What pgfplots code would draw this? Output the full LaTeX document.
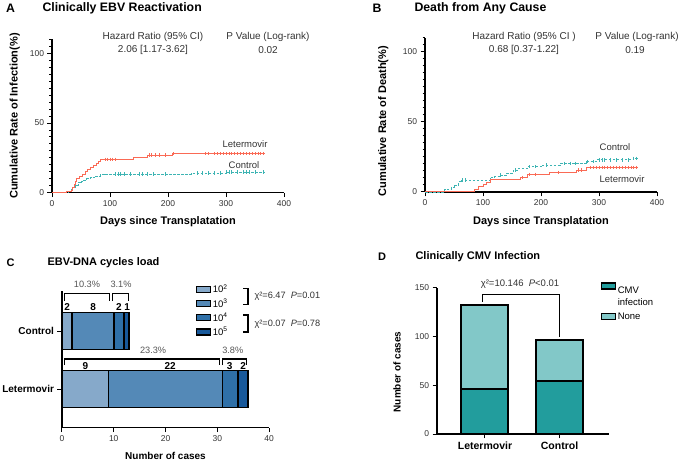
\documentclass[border=0pt]{standalone}
\usepackage{fontspec}
\setmainfont{Liberation Sans}
\usepackage{pgfplots}
\pgfplotsset{compat=1.18}

\definecolor{kmred}{HTML}{FA6A55}
\definecolor{kmteal}{HTML}{3DB4B3}
\definecolor{ca}{HTML}{86A9CA}
\definecolor{cb}{HTML}{5489B7}
\definecolor{cc}{HTML}{2F70A8}
\definecolor{cd}{HTML}{18599B}
\definecolor{dinf}{HTML}{229D9D}
\definecolor{dnone}{HTML}{82C8C8}
\definecolor{tg}{HTML}{333333}
\definecolor{pg}{HTML}{555555}

\newcommand{\fs}[2]{\fontsize{#1bp}{#2bp}\selectfont}

\pgfplotsset{
  prism/.style={
    scale only axis, anchor=south west,
    axis x line=bottom, axis y line=left,
    axis line style={-, line width=1.2bp, black},
    tick style={black, line width=1bp},
    tick align=outside,
    major tick length=4.5bp, minor tick length=2.5bp,
    tick label style={font=\fs{8.5}{10}, text=tg},
    /pgf/number format/assume math mode=true,
    clip=false,
    label style={font=\bfseries\fs{11}{13}},
  },
  boxleg/.style={legend image code/.code={\draw[##1, draw=black, line width=1.2bp] (0bp,-3bp) rectangle (14bp,3bp);}},
  boxlegup/.style={legend image code/.code={\draw[##1, draw=black, line width=1.2bp] (0bp,8bp) rectangle (14bp,14bp);}},
  kmr/.style={kmred, line width=1bp, const plot},
  kmt/.style={kmteal, line width=0.9bp, const plot, dash pattern=on 2.5bp off 1.5bp},
  cens/.style={only marks, mark=|, mark size=1.7bp, draw=#1, fill=#1, mark options={solid, line width=0.7bp, draw=#1}},
}

\begin{document}
\begin{tikzpicture}
\path[use as bounding box] (0,0) rectangle (685bp,462bp);

% ---------------- Panel A ----------------
\begin{axis}[prism, at={(52bp,269.3bp)}, width=232bp, height=153.2bp,
  xmin=0, xmax=400, ymin=0, ymax=110,
  xtick={0,100,200,300,400}, ytick={0,50,100},
  minor ytick={0,5,...,110},
  xlabel={Days since Transplatation},
  xlabel style={at={(axis description cs:0.5,-0.19)}, anchor=center},
  ylabel={Cumulative Rate of Infection(\%)},
  ylabel style={at={(axis description cs:-0.16,0.5)}, anchor=center},
]
\addplot[kmt] coordinates {(0,0) (28,0.7) (33,2) (36,4) (40,5.5) (45,7) (50,8) (55,9) (60,10) (67,11) (75,12) (83,12.8) (90,13.4) (240,14) (300,14.8) (367,14.8)};
\addplot[kmr] coordinates {(0,0) (25,0.7) (33,1.5) (36,4) (38,6) (40,8) (43,10) (47,11.5) (52,13) (57,15) (62,16.5) (67,18) (72,19.5) (76,21) (80,22.5) (84,23.5) (88,24) (140,25) (165,27) (208,28) (367,28)};
\addplot[cens=kmteal] coordinates {(110,13.4) (115,13.4) (118,13.4) (125,13.4) (135,13.4) (150,13.4) (155,13.4) (165,13.4) (175,13.4) (195,13.4) (250,14) (260,14) (270,14) (280,14) (290,14) (300,14.8) (305,14.8) (310,14.8) (320,14.8) (330,14.8) (335,14.8) (340,14.8) (350,14.8) (365,14.8)};
\addplot[cens=kmred] coordinates {(92,24) (96,24) (100,24) (104,24) (110,24) (168,27) (172,27) (178,27) (185,27) (195,27) (210,28) (265,28) (270,28) (280,28) (285,28) (290,28) (295,28) (300,28) (305,28) (310,28) (315,28) (320,28) (325,28) (330,28) (335,28) (340,28) (345,28) (350,28) (355,28) (360,28) (365,28)};
\end{axis}

% ---------------- Panel B ----------------
\begin{axis}[prism, at={(425bp,270bp)}, width=232bp, height=154bp,
  xmin=0, xmax=400, ymin=0, ymax=110,
  xtick={0,100,200,300,400}, ytick={0,50,100},
  minor ytick={0,5,...,110},
  xlabel={Days since Transplatation},
  xlabel style={at={(axis description cs:0.5,-0.19)}, anchor=center},
  ylabel={Cumulative Rate of Death(\%)},
  ylabel style={at={(axis description cs:-0.18,0.46)}, anchor=center},
]
\addplot[kmt] coordinates {(0,0) (34,1.5) (45,3) (50,5) (57,7.5) (62,8.6) (112,10.2) (120,11) (129,12) (141,13.3) (152,15.7) (160,16.5) (176,18) (203,19.3) (233,20.5) (279,21.7) (296,22.9) (359,24) (367,24)};
\addplot[kmr] coordinates {(0,0) (77,0.7) (85,2) (92,4) (100,5.5) (106,6.5) (113,8.6) (164,10.5) (176,12.6) (215,14) (262,15.7) (279,17.6) (367,17.6)};
\addplot[cens=kmteal] coordinates {(65,8.6) (70,8.6) (130,12) (155,15.7) (180,18) (190,18) (210,19.3) (240,20.5) (250,20.5) (260,20.5) (280,21.7) (290,21.7) (300,22.9) (305,22.9) (310,22.9) (320,22.9) (330,22.9) (340,22.9) (350,22.9) (360,24) (365,24)};
\addplot[cens=kmred] coordinates {(168,10.5) (180,12.6) (190,12.6) (230,14) (265,15.7) (270,15.7) (285,17.6) (290,17.6) (295,17.6) (300,17.6) (305,17.6) (310,17.6) (315,17.6) (320,17.6) (325,17.6) (330,17.6) (335,17.6) (340,17.6) (345,17.6) (350,17.6) (355,17.6) (360,17.6) (365,17.6)};
\end{axis}

% ---------------- Panel C ----------------
\begin{axis}[prism, at={(62bp,34.3bp)}, width=207bp, height=136.7bp,
  xbar stacked, bar width=37bp,
  xmin=0, xmax=40, ymin=-0.667, ymax=1.69,
  xtick={0,10,20,30,40}, ytick={0,1}, yticklabels={Letermovir,Control},
  yticklabel style={font=\bfseries\fs{10}{12}, text=black},
  xlabel={Number of cases},
  xlabel style={at={(axis description cs:0.5,-0.205)}, anchor=center, font=\bfseries\fs{10}{12}},
  legend style={at={(axis description cs:0.647,1.06)}, anchor=north west, draw=none, fill=none,
    inner sep=0pt, row sep=1.5bp, font=\fs{9.5}{11}, nodes={inner sep=1.5bp}},
  legend cell align=left,
]
\addplot[fill=ca, draw=black, line width=1.8bp, boxleg] coordinates {(9,0) (2,1)};
\addlegendentry{10\textsuperscript{2}}
\addplot[fill=cb, draw=black, line width=1.8bp, boxleg] coordinates {(22,0) (8,1)};
\addlegendentry{10\textsuperscript{3}}
\addplot[fill=cc, draw=black, line width=1.8bp, boxleg] coordinates {(3,0) (2,1)};
\addlegendentry{10\textsuperscript{4}}
\addplot[fill=cd, draw=black, line width=1.8bp, boxleg] coordinates {(2,0) (1,1)};
\addlegendentry{10\textsuperscript{5}}
% counts
\node[font=\bfseries\fs{10}{12}] at (axis cs:1,1.419) {2};
\node[font=\bfseries\fs{10}{12}] at (axis cs:6,1.419) {8};
\node[font=\bfseries\fs{10}{12}] at (axis cs:11,1.419) {2};
\node[font=\bfseries\fs{10}{12}] at (axis cs:12.6,1.419) {1};
\node[font=\bfseries\fs{10}{12}] at (axis cs:4.5,0.397) {9};
\node[font=\bfseries\fs{10}{12}] at (axis cs:20.9,0.397) {22};
\node[font=\bfseries\fs{10}{12}] at (axis cs:32.4,0.397) {3};
\node[font=\bfseries\fs{10}{12}] at (axis cs:35,0.397) {2};
% brackets
\draw[line width=1.1bp] (axis cs:0.4,1.517) -- (axis cs:0.4,1.643) -- (axis cs:9.1,1.643) -- (axis cs:9.1,1.517);
\draw[line width=1.1bp] (axis cs:9.7,1.517) -- (axis cs:9.7,1.643) -- (axis cs:12.8,1.643) -- (axis cs:12.8,1.517);
\draw[line width=1.1bp] (axis cs:0.4,0.414) -- (axis cs:0.4,0.517) -- (axis cs:30.4,0.517) -- (axis cs:30.4,0.414);
\draw[line width=1.1bp] (axis cs:31,0.414) -- (axis cs:31,0.517) -- (axis cs:35.6,0.517) -- (axis cs:35.6,0.414);
\node[font=\fs{9.2}{11}, text=pg] at (axis cs:4.83,1.81) {10.3\%};
\node[font=\fs{9.2}{11}, text=pg] at (axis cs:11.4,1.81) {3.1\%};
\node[font=\fs{9.2}{11}, text=pg] at (axis cs:17.6,0.672) {23.3\%};
\node[font=\fs{9.2}{11}, text=pg] at (axis cs:33,0.672) {3.8\%};
\end{axis}

% ---------------- Panel D ----------------
\begin{axis}[prism, at={(437bp,28bp)}, width=172bp, height=146bp,
  ybar stacked, bar width=47bp,
  xmin=-0.644, xmax=1.664, ymin=0, ymax=150,
  xtick={0,1}, xticklabels={Letermovir,Control},
  xticklabel style={font=\bfseries\fs{10.5}{12}, text=black},
  ytick={0,50,100,150},
  ylabel={Number of cases},
  ylabel style={at={(axis description cs:-0.233,0.425)}, anchor=center, font=\bfseries\fs{10}{12}},
  legend style={at={(axis description cs:0.953,1.04)}, anchor=north west, draw=none, fill=none,
    inner sep=0pt, row sep=3bp, font=\fs{9.5}{11.5}, nodes={inner sep=1.5bp}, cells={align=left}},
  legend cell align=left,
]
\addplot[fill=dinf, draw=black, line width=2bp, boxlegup] coordinates {(0,46) (1,54)};
\addlegendentry{CMV\\infection}
\addplot[fill=dnone, draw=black, line width=2bp, boxleg] coordinates {(0,87) (1,43)};
\addlegendentry{None}
\node[font=\bfseries\fs{10}{12}] at (axis cs:0,9.5) {34.6\%};
\node[font=\bfseries\fs{10}{12}] at (axis cs:1,9.5) {55.7\%};
\draw[line width=1.1bp] (axis cs:-0.03,136) -- (axis cs:-0.03,143.6) -- (axis cs:1,143.6) -- (axis cs:1,100);
\node[font=\fs{9.5}{11}, text=tg] at (axis cs:0.47,154) {χ²=10.146\ \ \textit{P}<0.01};
\end{axis}

% ---------------- absolute annotations ----------------
\node[font=\bfseries\fs{12.3}{14}] at (10.5bp,454bp) {A};
\node[font=\bfseries\fs{12.3}{14}, anchor=west] at (39bp,454bp) {Clinically EBV Reactivation};
\node[font=\fs{10}{11}, text=tg] at (153bp,425bp) {Hazard Ratio (95\% CI)};
\node[font=\fs{10}{11}, text=tg] at (153bp,412bp) {2.06 [1.17-3.62]};
\node[font=\fs{10}{11}, text=tg] at (268bp,425bp) {P Value (Log-rank)};
\node[font=\fs{10}{11}, text=tg] at (268bp,412bp) {0.02};
\node[font=\fs{9.5}{11}, text=tg] at (245bp,318bp) {Letermovir};
\node[font=\fs{9.5}{11}, text=tg] at (244bp,297bp) {Control};

\node[font=\bfseries\fs{12.3}{14}] at (377bp,454bp) {B};
\node[font=\bfseries\fs{12.3}{14}, anchor=west] at (411bp,454bp) {Death from Any Cause};
\node[font=\fs{10}{11}, text=tg] at (524bp,425bp) {Hazard Ratio (95\% CI )};
\node[font=\fs{10}{11}, text=tg] at (524bp,412bp) {0.68 [0.37-1.22]};
\node[font=\fs{10}{11}, text=tg] at (637bp,425bp) {P Value (Log-rank)};
\node[font=\fs{10}{11}, text=tg] at (635bp,412bp) {0.19};
\node[font=\fs{9.5}{11}, text=tg] at (615bp,315bp) {Control};
\node[font=\fs{9.5}{11}, text=tg] at (622bp,283bp) {Letermovir};

\node[font=\bfseries\fs{11}{13}] at (10.5bp,199bp) {C};
\node[font=\bfseries\fs{11}{13}, anchor=west] at (44bp,199bp) {EBV-DNA cycles load};
\draw[line width=1.1bp] (243bp,173.7bp) -- (248bp,173.7bp) -- (248bp,157.7bp) -- (243bp,157.7bp);
\draw[line width=1.1bp] (243bp,147bp) -- (248bp,147bp) -- (248bp,130bp) -- (243bp,130bp);
\node[font=\fs{9.2}{11}, text=tg, anchor=west] at (251bp,166bp) {χ²=6.47\ \ \textit{P}=0.01};
\node[font=\fs{9.2}{11}, text=tg, anchor=west] at (251bp,138bp) {χ²=0.07\ \ \textit{P}=0.78};

\node[font=\bfseries\fs{11}{13}] at (382bp,205bp) {D};
\node[font=\bfseries\fs{11}{13}, anchor=west] at (412bp,205bp) {Clinically CMV Infection};
\end{tikzpicture}
\end{document}
